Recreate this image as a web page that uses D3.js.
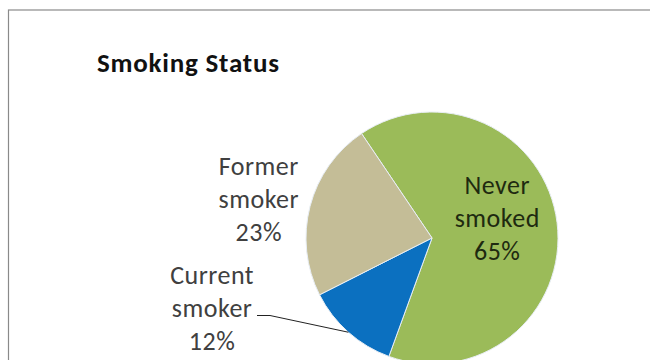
<!DOCTYPE html>
<html>
<head>
<meta charset="utf-8">
<script src="https://cdn.jsdelivr.net/npm/d3@7"></script>
<style>
  html, body { margin: 0; padding: 0; background: #fff; }
  svg { display: block; }
</style>
</head>
<body>
<svg id="chart" width="650" height="360"></svg>
<script>
// Smoking status shares (percent)
const categories = ["Never smoked", "Current smoker", "Former smoker"];
const values = [65, 12, 23];
const labelLines = [["Never", "smoked"], ["Current", "smoker"], ["Former", "smoker"]];
const colors = ["#9bbb59", "#0b70c0", "#c4bd97"];
const title = "Smoking Status";

const W = 650, H = 360;
const svg = d3.select("#chart");
const fontFamily = "Carlito, Calibri, 'Open Sans', sans-serif";

// chart frame
svg.append("rect")
  .attr("x", 8.5).attr("y", 10)
  .attr("width", W + 10).attr("height", H + 10)
  .attr("fill", "#fff").attr("stroke", "#8a8a8a").attr("stroke-width", 1.2);

// title, spread to a fixed width
const titleWidth = 182;
const titleText = svg.append("text")
  .attr("x", 97).attr("y", 72)
  .attr("font-family", fontFamily)
  .attr("font-weight", "bold")
  .attr("font-size", 27)
  .attr("fill", "#111")
  .text(title);
const natural = titleText.node().getComputedTextLength();
titleText.attr("letter-spacing", Math.max(0, (titleWidth - natural) / (title.length - 1)));

const cx = 432, cy = 238, r = 126;
const g = svg.append("g").attr("transform", `translate(${cx},${cy})`);

const start = -34 * Math.PI / 180;
const pie = d3.pie().sort(null).value(d => d).startAngle(start).endAngle(start + 2 * Math.PI);
const arcs = pie(values);
const arc = d3.arc().innerRadius(0).outerRadius(r);

g.selectAll("path.slice")
  .data(arcs)
  .join("path")
  .attr("class", "slice")
  .attr("d", arc)
  .attr("fill", (d, i) => colors[i])
  .attr("stroke", "#e8eef5")
  .attr("stroke-width", 1);

// label anchors (baseline of the middle line), as angle/radius from the pie centre
const labelPolar = [
  { a: 80, rr: 66 },     // inside the green slice
  { a: 250.2, rr: 234 }, // outside, left-lower
  { a: 279.8, rr: 176 }  // outside, left
];
const lineH = 33;

arcs.forEach((d, i) => {
  const p = labelPolar[i];
  const ang = p.a * Math.PI / 180;
  const lx = cx + p.rr * Math.sin(ang);
  const ly = cy - p.rr * Math.cos(ang);
  const lines = labelLines[i].concat([d3.format(".0%")(values[i] / 100)]);
  const t = svg.append("text")
    .attr("text-anchor", "middle")
    .attr("font-family", fontFamily)
    .attr("font-size", 26)
    .attr("letter-spacing", 0.5)
    .attr("fill", i === 0 ? "#1e2a10" : "#404040");
  lines.forEach((s, k) => {
    t.append("tspan")
      .attr("x", lx + 0.25)
      .attr("y", ly + (k - 1) * lineH)
      .text(s);
  });
});

// leader line for the small slice: from the end of "smoker" to the slice edge at its mid-angle
const mid = (arcs[1].startAngle + arcs[1].endAngle) / 2;
const tip = [cx + r * Math.sin(mid), cy - r * Math.cos(mid)];
svg.append("path")
  .attr("d", d3.line()([[257, 315.5], [270, 315.5], tip]))
  .attr("fill", "none")
  .attr("stroke", "#222")
  .attr("stroke-width", 1);
</script>
</body>
</html>
